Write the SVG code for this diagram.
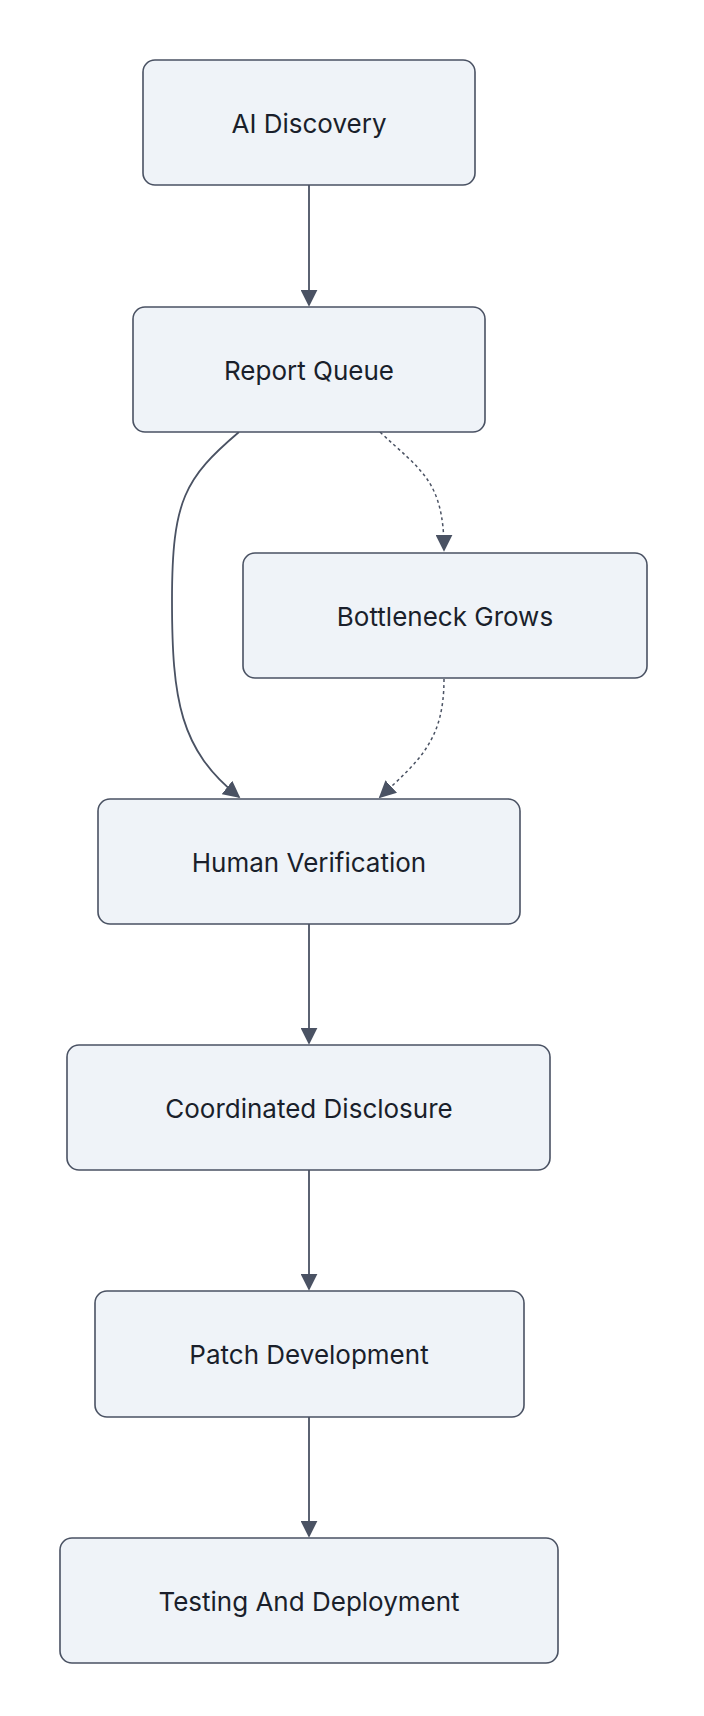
<svg xmlns="http://www.w3.org/2000/svg" width="704" height="1716" viewBox="0 0 704 1716">
<style>
.n rect{fill:#eff3f8;stroke:#4a5263;stroke-width:1.6}
.n text{font-family:Inter,"Liberation Sans",sans-serif;font-size:26px;fill:#1a1f2b;text-anchor:middle;dominant-baseline:central}
.e path{fill:none;stroke:#4a5263;stroke-width:1.8}
.e .d{stroke-dasharray:3 3;stroke-width:1.5}
</style>
<defs><marker id="a" viewBox="0 0 10 10" refX="9" refY="5" markerWidth="9" markerHeight="9" markerUnits="userSpaceOnUse" orient="auto"><path d="M0 0L10 5L0 10z" fill="#4a5263"/></marker>
<marker id="b" viewBox="0 0 10 10" refX="9" refY="5" markerWidth="17" markerHeight="17" markerUnits="userSpaceOnUse" orient="auto"><path d="M0 0L10 5L0 10z" fill="#4a5263"/></marker></defs>
<rect width="704" height="1716" fill="#fff"/>
<g class="e">
<path d="M309 185V305" marker-end="url(#b)"/>
<path d="M239 432C185 478 172 500 172 600C172 700 180 750 239 797" marker-end="url(#b)"/>
<path class="d" d="M380 432C420 470 444 480 444 550" marker-end="url(#b)"/>
<path class="d" d="M444 679C444 740 420 760 380 797" marker-end="url(#b)"/>
<path d="M309 924V1043" marker-end="url(#b)"/>
<path d="M309 1170V1289" marker-end="url(#b)"/>
<path d="M309 1417V1536" marker-end="url(#b)"/>
</g>
<g id="ai" class="n"><rect x="143" y="60" width="332" height="125" rx="12"/><text x="309" y="123">AI Discovery</text></g>
<g id="rq" class="n"><rect x="133" y="307" width="352" height="125" rx="12"/><text x="309" y="370">Report Queue</text></g>
<g id="bg" class="n"><rect x="243" y="553" width="404" height="125" rx="12"/><text x="445" y="616">Bottleneck Grows</text></g>
<g id="hv" class="n"><rect x="98" y="799" width="422" height="125" rx="12"/><text x="309" y="862">Human Verification</text></g>
<g id="cd" class="n"><rect x="67" y="1045" width="483" height="125" rx="12"/><text x="309" y="1108">Coordinated Disclosure</text></g>
<g id="pd" class="n"><rect x="95" y="1291" width="429" height="126" rx="12"/><text x="309" y="1354">Patch Development</text></g>
<g id="td" class="n"><rect x="60" y="1538" width="498" height="125" rx="12"/><text x="309" y="1601">Testing And Deployment</text></g>
</svg>
